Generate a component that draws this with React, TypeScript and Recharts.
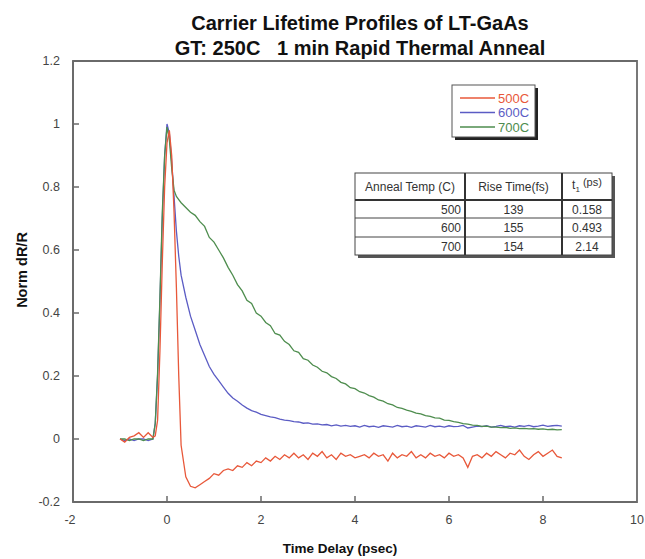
import React from 'react';
import { LineChart, Line, XAxis, YAxis, ReferenceArea } from 'recharts';

const TIME = [
  -1.0, -0.9, -0.8, -0.7, -0.6, -0.5, -0.4, -0.3,
  -0.25, -0.2, -0.15, -0.1, -0.05, 0, 0.05, 0.1, 0.15, 0.2, 0.25, 0.3,
  0.4, 0.5, 0.6, 0.7, 0.8, 0.9, 1.0,
  1.1, 1.2, 1.3, 1.4, 1.5, 1.6, 1.7, 1.8, 1.9, 2.0,
  2.1, 2.2, 2.3, 2.4, 2.5, 2.6, 2.7, 2.8, 2.9, 3.0,
  3.1, 3.2, 3.3, 3.4, 3.5, 3.6, 3.7, 3.8, 3.9, 4.0,
  4.1, 4.2, 4.3, 4.4, 4.5, 4.6, 4.7, 4.8, 4.9, 5.0,
  5.1, 5.2, 5.3, 5.4, 5.5, 5.6, 5.7, 5.8, 5.9, 6.0,
  6.1, 6.2, 6.3, 6.4, 6.5, 6.6, 6.7, 6.8, 6.9, 7.0,
  7.1, 7.2, 7.3, 7.4, 7.5, 7.6, 7.7, 7.8, 7.9, 8.0,
  8.1, 8.2, 8.3, 8.4,
];

const R500 = [
  0, -0.01, 0.005, 0.01, 0.02, 0.005, 0.02, 0.005,
  0.01, 0.06, 0.28, 0.56, 0.8, 0.94, 0.98, 0.9, 0.72, 0.48, 0.2, -0.02,
  -0.12, -0.15, -0.155, -0.145, -0.135, -0.125, -0.11,
  -0.115, -0.1, -0.095, -0.1, -0.085, -0.09, -0.075, -0.085, -0.07, -0.075,
  -0.06, -0.07, -0.055, -0.065, -0.05, -0.06, -0.045, -0.06, -0.05, -0.065,
  -0.045, -0.055, -0.04, -0.06, -0.05, -0.065, -0.045, -0.055, -0.05, -0.06,
  -0.055, -0.05, -0.06, -0.045, -0.055, -0.05, -0.07, -0.045, -0.06, -0.05,
  -0.055, -0.04, -0.06, -0.05, -0.06, -0.045, -0.055, -0.05, -0.06, -0.045,
  -0.055, -0.05, -0.06, -0.09, -0.055, -0.05, -0.06, -0.045, -0.055, -0.04,
  -0.05, -0.06, -0.045, -0.05, -0.035, -0.055, -0.065, -0.05, -0.04, -0.055,
  -0.045, -0.035, -0.055, -0.06,
];

const B600 = [
  0, -0.005, 0, -0.005, 0, 0, -0.005, 0,
  0.05, 0.2, 0.44, 0.7, 0.9, 1.0, 0.97, 0.88, 0.77, 0.66, 0.58, 0.52,
  0.45, 0.39, 0.345, 0.3, 0.265, 0.23, 0.205,
  0.185, 0.165, 0.145, 0.13, 0.12, 0.108, 0.098, 0.09, 0.085, 0.078,
  0.074, 0.07, 0.068, 0.063, 0.06, 0.058, 0.055, 0.054, 0.05, 0.051,
  0.047, 0.048, 0.045, 0.046, 0.042, 0.045, 0.041, 0.043, 0.04, 0.042,
  0.038, 0.043, 0.039, 0.041, 0.037, 0.042, 0.04, 0.038, 0.043, 0.039,
  0.041, 0.037, 0.042, 0.04, 0.038, 0.043, 0.039, 0.041, 0.038, 0.042,
  0.039, 0.04, 0.043, 0.035, 0.038, 0.041, 0.039, 0.042, 0.038, 0.04,
  0.043, 0.039, 0.041, 0.038, 0.042, 0.04, 0.043, 0.039, 0.041, 0.044,
  0.04, 0.042, 0.043, 0.041,
];

const G700 = [
  0, 0, -0.005, 0, 0, -0.005, 0, 0,
  0.05, 0.21, 0.45, 0.72, 0.9, 0.99, 0.95, 0.86, 0.79, 0.77, 0.76, 0.75,
  0.735, 0.72, 0.71, 0.69, 0.675, 0.64, 0.625,
  0.6, 0.575, 0.545, 0.52, 0.49, 0.47, 0.44, 0.43, 0.4, 0.39,
  0.37, 0.36, 0.335, 0.33, 0.31, 0.3, 0.28, 0.275, 0.255, 0.25,
  0.235, 0.228, 0.215, 0.21, 0.198, 0.192, 0.18, 0.175, 0.163, 0.16,
  0.15, 0.146, 0.138, 0.133, 0.124, 0.12, 0.112, 0.108, 0.1, 0.097,
  0.092, 0.088, 0.082, 0.08, 0.074, 0.072, 0.067, 0.066, 0.06, 0.059,
  0.055, 0.053, 0.049, 0.047, 0.044, 0.043, 0.04, 0.041, 0.038, 0.038,
  0.036, 0.037, 0.034, 0.035, 0.033, 0.034, 0.032, 0.033, 0.031, 0.032,
  0.03, 0.031, 0.029, 0.03,
];

const X_TICKS = [-2, 0, 2, 4, 6, 8, 10];
const Y_TICKS = [-0.2, 0, 0.2, 0.4, 0.6, 0.8, 1, 1.2];

const SERIES = [
  { key: 'b', name: '600C', color: '#5b5cc4' },
  { key: 'g', name: '700C', color: '#4e8d4e' },
  { key: 'r', name: '500C', color: '#e8583a' },
];
const LEGEND_ORDER = ['r', 'b', 'g'];

const TABLE_HEADER = ['Anneal Temp (C)', 'Rise Time(fs)', 't1 (ps)'];
const TABLE_TEMP = ['500', '600', '700'];
const TABLE_RISE = ['139', '155', '154'];
const TABLE_T1 = ['0.158', '0.493', '2.14'];

const data = TIME.map((t, i) => ({ t, r: R500[i], b: B600[i], g: G700[i] }));

const FONT = '"Liberation Sans", Arial, sans-serif';
const AXIS = '#6a6a6a';

const XTick = (props: any) => {
  const { x, y, payload } = props;
  const v = payload.value;
  const edge = v === -2 || v === 10;
  return (
    <g>
      {!edge && <line x1={x} x2={x} y1={y} y2={y - 6} stroke={AXIS} strokeWidth={1.5} />}
      <text x={x - (v === -2 ? 3 : 0)} y={y + 22} textAnchor="middle" fontSize={12.5} fill="#444" fontFamily={FONT}>
        {v}
      </text>
    </g>
  );
};

const YTick = (props: any) => {
  const { x, y, payload } = props;
  const v = payload.value;
  const edge = v === -0.2 || v === 1.2;
  return (
    <g>
      {!edge && <line x1={x} x2={x + 6} y1={y} y2={y} stroke={AXIS} strokeWidth={1.5} />}
      <text x={x - 13} y={y + 4} textAnchor="end" fontSize={12.5} fill="#444" fontFamily={FONT}>
        {v}
      </text>
    </g>
  );
};

const colorOf = (k: string) => SERIES.find((s) => s.key === k)!;

export default function App() {
  const tx = 355, tw1 = 110, tw2 = 97, tw3 = 50;
  const rowTop = [173, 200, 218, 237, 255];
  return (
    <div style={{ position: 'absolute', left: 0, top: 0, width: 645, height: 559, background: '#fff' }}>
      <LineChart width={645} height={559} data={data} margin={{ top: 61, right: 8, bottom: 27, left: 0 }}>
        <XAxis
          dataKey="t"
          type="number"
          domain={[-2, 10]}
          ticks={X_TICKS}
          interval={0}
          height={30}
          tickSize={0}
          tickMargin={0}
          tickLine={false}
          axisLine={{ stroke: AXIS, strokeWidth: 1.8 }}
          tick={<XTick />}
          allowDataOverflow
        />
        <YAxis
          type="number"
          domain={[-0.2, 1.2]}
          ticks={Y_TICKS}
          interval={0}
          width={73}
          tickSize={0}
          tickMargin={0}
          tickLine={false}
          axisLine={{ stroke: AXIS, strokeWidth: 1.8 }}
          tick={<YTick />}
          allowDataOverflow
        />
        <ReferenceArea x1={-2} x2={10} y1={-0.2} y2={1.2} fill="none" stroke={AXIS} strokeWidth={1.8} />
        {SERIES.map((s) => (
          <Line
            key={s.key}
            dataKey={s.key}
            stroke={s.color}
            strokeWidth={1.3}
            dot={false}
            type="linear"
            isAnimationActive={false}
          />
        ))}
      </LineChart>
      <svg width={645} height={559} style={{ position: 'absolute', left: 0, top: 0, pointerEvents: 'none' }} fontFamily={FONT}>
        <text x={360} y={30} textAnchor="middle" fontSize={20} fontWeight="bold" fill="#111">
          Carrier Lifetime Profiles of LT-GaAs
        </text>
        <text x={360} y={55} textAnchor="middle" fontSize={20} fontWeight="bold" fill="#111" xmlSpace="preserve">
          GT: 250C   1 min Rapid Thermal Anneal
        </text>
        <text x={340} y={553} textAnchor="middle" fontSize={13.5} fontWeight="bold" fill="#111">
          Time Delay (psec)
        </text>
        <text x={27} y={270} textAnchor="middle" fontSize={14.5} fontWeight="bold" fill="#111" transform="rotate(-90 27 270)">
          Norm dR/R
        </text>

        {/* legend */}
        <rect x={455} y={88} width={83} height={52} fill="#222" />
        <rect x={452} y={85} width={83} height={52} fill="#fff" stroke="#555" strokeWidth={1} />
        {LEGEND_ORDER.map((k, i) => {
          const s = colorOf(k);
          const y = 98 + i * 14.5;
          return (
            <g key={k}>
              <line x1={460} x2={495} y1={y} y2={y} stroke={s.color} strokeWidth={1.3} />
              <text x={498} y={y + 4.5} fontSize={13} fill={s.color}>
                {s.name}
              </text>
            </g>
          );
        })}

        {/* table */}
        <rect x={tx + 3} y={rowTop[0] + 3} width={tw1 + tw2 + tw3} height={rowTop[4] - rowTop[0]} fill="#555" />
        <rect x={tx} y={rowTop[0]} width={tw1 + tw2 + tw3} height={rowTop[4] - rowTop[0]} fill="#fff" stroke="#444" strokeWidth={1} />
        <line x1={tx} x2={tx + tw1 + tw2 + tw3} y1={rowTop[1]} y2={rowTop[1]} stroke="#333" strokeWidth={2} />
        <line x1={tx} x2={tx + tw1 + tw2 + tw3} y1={rowTop[2]} y2={rowTop[2]} stroke="#444" strokeWidth={1} />
        <line x1={tx} x2={tx + tw1 + tw2 + tw3} y1={rowTop[3]} y2={rowTop[3]} stroke="#444" strokeWidth={1} />
        <line x1={tx + tw1} x2={tx + tw1} y1={rowTop[0]} y2={rowTop[4]} stroke="#333" strokeWidth={2} />
        <line x1={tx + tw1 + tw2} x2={tx + tw1 + tw2} y1={rowTop[0]} y2={rowTop[4]} stroke="#333" strokeWidth={2} />
        <text x={tx + tw1 / 2} y={191} textAnchor="middle" fontSize={12} fill="#333">{TABLE_HEADER[0]}</text>
        <text x={tx + tw1 + tw2 / 2} y={191} textAnchor="middle" fontSize={12} fill="#333">{TABLE_HEADER[1]}</text>
        <text x={tx + tw1 + tw2 + tw3 / 2} y={189} textAnchor="middle" fontSize={12} fill="#333">
          <tspan>{TABLE_HEADER[2].slice(0, 1)}</tspan>
          <tspan fontSize={8} dy={3}>{TABLE_HEADER[2].slice(1, 2)}</tspan>
          <tspan fontSize={11} dy={-6}>{TABLE_HEADER[2].slice(2)}</tspan>
        </text>
        {TABLE_TEMP.map((v, i) => {
          const cy = (rowTop[i + 1] + rowTop[i + 2]) / 2 + 4.5;
          return (
            <g key={v}>
              <text x={tx + tw1 - 4} y={cy} textAnchor="end" fontSize={12} fill="#333">{v}</text>
              <text x={tx + tw1 + tw2 / 2} y={cy} textAnchor="middle" fontSize={12} fill="#333">{TABLE_RISE[i]}</text>
              <text x={tx + tw1 + tw2 + tw3 / 2} y={cy} textAnchor="middle" fontSize={12} fill="#333">{TABLE_T1[i]}</text>
            </g>
          );
        })}
      </svg>
    </div>
  );
}
